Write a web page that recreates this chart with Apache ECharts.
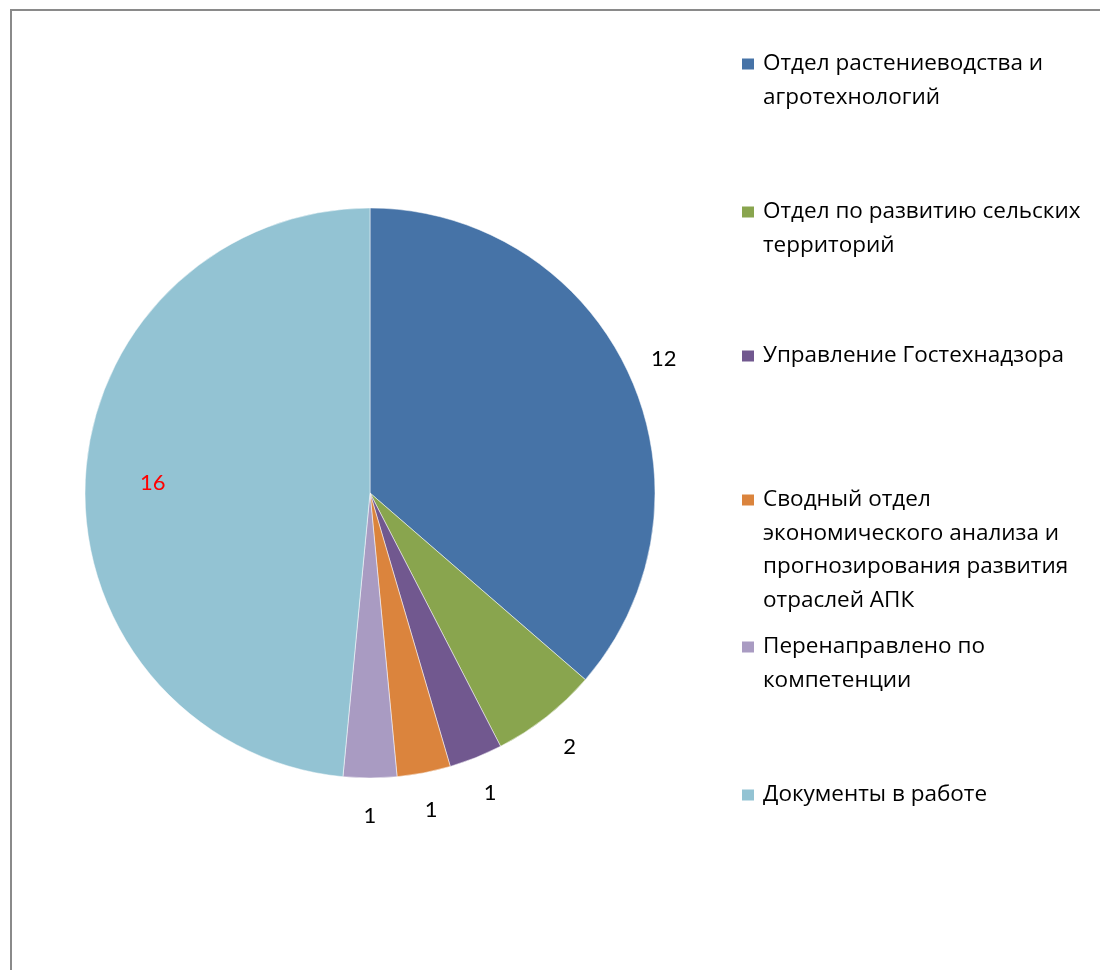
<!DOCTYPE html>
<html>
<head>
<meta charset="utf-8">
<script src="https://cdn.jsdelivr.net/npm/echarts@6/dist/echarts.min.js"></script>
<style>
html,body{margin:0;padding:0;background:#fff;}
#chart{width:1100px;height:970px;}
</style>
</head>
<body>
<div id="chart"></div>
<script>
// Data
const categories = [
  'Отдел растениеводства и агротехнологий',
  'Отдел по развитию сельских территорий',
  'Управление Гостехнадзора',
  'Сводный отдел экономического анализа и прогнозирования развития отраслей АПК',
  'Перенаправлено по компетенции',
  'Документы в работе'
];
const values = [12, 2, 1, 1, 1, 16];
// Legend display lines (wrapped as in the reference)
const legendLines = [
  ['Отдел растениеводства и', 'агротехнологий'],
  ['Отдел по развитию сельских', 'территорий'],
  ['Управление Гостехнадзора'],
  ['Сводный отдел', 'экономического анализа и', 'прогнозирования развития', 'отраслей АПК'],
  ['Перенаправлено по', 'компетенции'],
  ['Документы в работе']
];
const colors = ['#4673A7', '#89A54E', '#71588F', '#DB843D', '#A99BC2', '#93C3D3'];

const FONT = '"Open Sans", Lato, sans-serif';
const LABEL_FONT = 'Lato, "Open Sans", sans-serif';
const chart = echarts.init(document.getElementById('chart'));

const cx = 370, cy = 493, R = 285;
const lineH = 33.5;
const legendFirstLineY = [64, 212, 356, 500, 647, 795];

const legends = categories.map((name, i) => {
  const n = legendLines[i].length;
  const txt = '\n'.repeat(n - 1) + legendLines[i].join('\n');
  const blockH = (2 * n - 1) * lineH;
  return {
    orient: 'vertical',
    left: 740,
    top: legendFirstLineY[i] - blockH / 2,
    padding: 0,
    itemWidth: 14,
    itemHeight: 13,
    icon: 'rect',
    data: [name],
    formatter: () => txt,
    textStyle: { fontFamily: FONT, fontSize: 22.5, color: '#000', lineHeight: lineH, padding: [0, 0, 0, 3] }
  };
});

const pieData = categories.map((name, i) => ({ name, value: values[i], itemStyle: { color: colors[i] } }));

chart.setOption({
  backgroundColor: '#fff',
  animation: false,
  graphic: [{
    type: 'rect',
    shape: { x: 11, y: 10, width: 1200, height: 1200 },
    style: { fill: 'none', stroke: '#8a8a8a', lineWidth: 2 },
    silent: true
  }],
  legend: legends,
  series: [
    {
      type: 'pie',
      center: [cx, cy],
      radius: [0, R],
      startAngle: 90,
      clockwise: true,
      label: { show: false },
      labelLine: { show: false },
      itemStyle: { borderColor: '#fff', borderWidth: 0.5 },
      data: pieData
    },
    {
      // outer value labels
      type: 'pie',
      center: [cx, cy],
      radius: [298, 342],
      startAngle: 90,
      clockwise: true,
      silent: true,
      itemStyle: { color: 'rgba(0,0,0,0)' },
      label: {
        position: 'inside',
        fontFamily: LABEL_FONT,
        fontSize: 22,
        color: '#000',
        formatter: p => (p.dataIndex === 5 ? '' : String(p.value))
      },
      labelLine: { show: false },
      data: categories.map((name, i) => ({ name, value: values[i] }))
    },
    {
      // inner value label for the largest slice
      type: 'pie',
      center: [cx, cy],
      radius: [192, 237],
      startAngle: 90,
      clockwise: true,
      silent: true,
      itemStyle: { color: 'rgba(0,0,0,0)' },
      label: {
        position: 'inside',
        fontFamily: LABEL_FONT,
        fontSize: 22,
        color: '#FF0000',
        formatter: p => (p.dataIndex === 5 ? String(p.value) : '')
      },
      labelLine: { show: false },
      data: categories.map((name, i) => ({ name, value: values[i] }))
    }
  ]
});
</script>
</body>
</html>
